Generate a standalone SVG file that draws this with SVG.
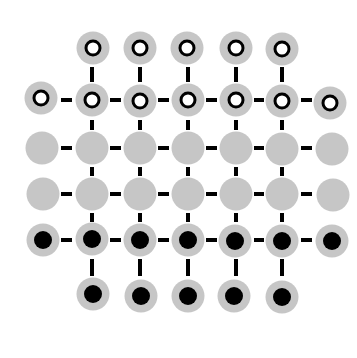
<svg xmlns="http://www.w3.org/2000/svg" width="357" height="358" viewBox="0 0 357 358">
<defs>
<style>
.g{fill:#c6c6c6}
.ring{fill:#fff;stroke:#000;stroke-width:3}
.dot{fill:#000}
.c{stroke:#000;stroke-width:4;fill:none}
</style>
<filter id="soft" x="-20%" y="-20%" width="140%" height="140%"><feGaussianBlur stdDeviation="0.6"/></filter>
</defs>
<rect width="357" height="358" fill="#fff"/>
<g id="connectors" class="c" filter="url(#soft)">
<path d="M92,67V82M140,67V82M188,67V82M236,67V82M282,67V82"/>
<path d="M92,120V130M140,120V130M188,120V130M236,120V130M282,120V130"/>
<path d="M92,167V176M140,167V176M188,167V176M236,167V176M282,167V176"/>
<path d="M92,213V222M140,213V222M188,213V222M236,213V222M282,213V222"/>
<path d="M92,259V276M140,259V276M188,259V276M236,259V276M282,259V276"/>
<path d="M61,100H72M110,100H121M158,100H169M206,100H217M254,100H264M301,100H312"/>
<path d="M61,148H72M110,148H121M158,148H169M206,148H217M254,148H264M301,148H312"/>
<path d="M61,194H72M110,194H121M158,194H169M206,194H217M254,194H264M301,194H312"/>
<path d="M61,240H72M110,240H121M158,240H169M206,240H217M254,240H264M301,240H312"/>
</g>
<g filter="url(#soft)">
<g id="n0_1"><circle class="g" cx="93" cy="48" r="16.5"/><circle class="ring" cx="93" cy="48" r="7"/></g>
<g id="n0_2"><circle class="g" cx="140" cy="48" r="16.5"/><circle class="ring" cx="140" cy="48" r="7"/></g>
<g id="n0_3"><circle class="g" cx="187" cy="48" r="16.5"/><circle class="ring" cx="187" cy="48" r="7"/></g>
<g id="n0_4"><circle class="g" cx="236" cy="48" r="16.5"/><circle class="ring" cx="236" cy="48" r="7"/></g>
<g id="n0_5"><circle class="g" cx="282" cy="49" r="16.5"/><circle class="ring" cx="282" cy="49" r="7"/></g>

<g id="n1_0"><circle class="g" cx="41" cy="98" r="16.5"/><circle class="ring" cx="41" cy="98" r="7"/></g>
<g id="n1_1"><circle class="g" cx="92" cy="100" r="16.5"/><circle class="ring" cx="92" cy="100" r="7"/></g>
<g id="n1_2"><circle class="g" cx="140" cy="101" r="16.5"/><circle class="ring" cx="140" cy="101" r="7"/></g>
<g id="n1_3"><circle class="g" cx="188" cy="100" r="16.5"/><circle class="ring" cx="188" cy="100" r="7"/></g>
<g id="n1_4"><circle class="g" cx="236" cy="100" r="16.5"/><circle class="ring" cx="236" cy="100" r="7"/></g>
<g id="n1_5"><circle class="g" cx="282" cy="101" r="16.5"/><circle class="ring" cx="282" cy="101" r="7"/></g>
<g id="n1_6"><circle class="g" cx="330" cy="103" r="16.5"/><circle class="ring" cx="330" cy="103" r="7"/></g>

<g id="n2_0"><circle class="g" cx="42" cy="148" r="16.5"/></g>
<g id="n2_1"><circle class="g" cx="92" cy="148" r="16.5"/></g>
<g id="n2_2"><circle class="g" cx="140" cy="148" r="16.5"/></g>
<g id="n2_3"><circle class="g" cx="188" cy="148" r="16.5"/></g>
<g id="n2_4"><circle class="g" cx="236" cy="148" r="16.5"/></g>
<g id="n2_5"><circle class="g" cx="282" cy="149" r="16.5"/></g>
<g id="n2_6"><circle class="g" cx="332" cy="149" r="16.5"/></g>

<g id="n3_0"><circle class="g" cx="43" cy="194" r="16.5"/></g>
<g id="n3_1"><circle class="g" cx="92" cy="194" r="16.5"/></g>
<g id="n3_2"><circle class="g" cx="140" cy="194" r="16.5"/></g>
<g id="n3_3"><circle class="g" cx="188" cy="194" r="16.5"/></g>
<g id="n3_4"><circle class="g" cx="236" cy="194" r="16.5"/></g>
<g id="n3_5"><circle class="g" cx="282" cy="194" r="16.5"/></g>
<g id="n3_6"><circle class="g" cx="333" cy="195" r="16.5"/></g>

<g id="n4_0"><circle class="g" cx="43" cy="240" r="16.5"/><circle class="dot" cx="43" cy="240" r="9"/></g>
<g id="n4_1"><circle class="g" cx="92" cy="239" r="16.5"/><circle class="dot" cx="92" cy="239" r="9"/></g>
<g id="n4_2"><circle class="g" cx="140" cy="240" r="16.5"/><circle class="dot" cx="140" cy="240" r="9"/></g>
<g id="n4_3"><circle class="g" cx="188" cy="240" r="16.5"/><circle class="dot" cx="188" cy="240" r="9"/></g>
<g id="n4_4"><circle class="g" cx="235" cy="241" r="16.5"/><circle class="dot" cx="235" cy="241" r="9"/></g>
<g id="n4_5"><circle class="g" cx="282" cy="241" r="16.5"/><circle class="dot" cx="282" cy="241" r="9"/></g>
<g id="n4_6"><circle class="g" cx="332" cy="241" r="16.5"/><circle class="dot" cx="332" cy="241" r="9"/></g>

<g id="n5_1"><circle class="g" cx="93" cy="294" r="16.5"/><circle class="dot" cx="93" cy="294" r="9"/></g>
<g id="n5_2"><circle class="g" cx="141" cy="296" r="16.5"/><circle class="dot" cx="141" cy="296" r="9"/></g>
<g id="n5_3"><circle class="g" cx="188" cy="296" r="16.5"/><circle class="dot" cx="188" cy="296" r="9"/></g>
<g id="n5_4"><circle class="g" cx="234" cy="296" r="16.5"/><circle class="dot" cx="234" cy="296" r="9"/></g>
<g id="n5_5"><circle class="g" cx="282" cy="297" r="16.5"/><circle class="dot" cx="282" cy="297" r="9"/></g>
</g>
</svg>
